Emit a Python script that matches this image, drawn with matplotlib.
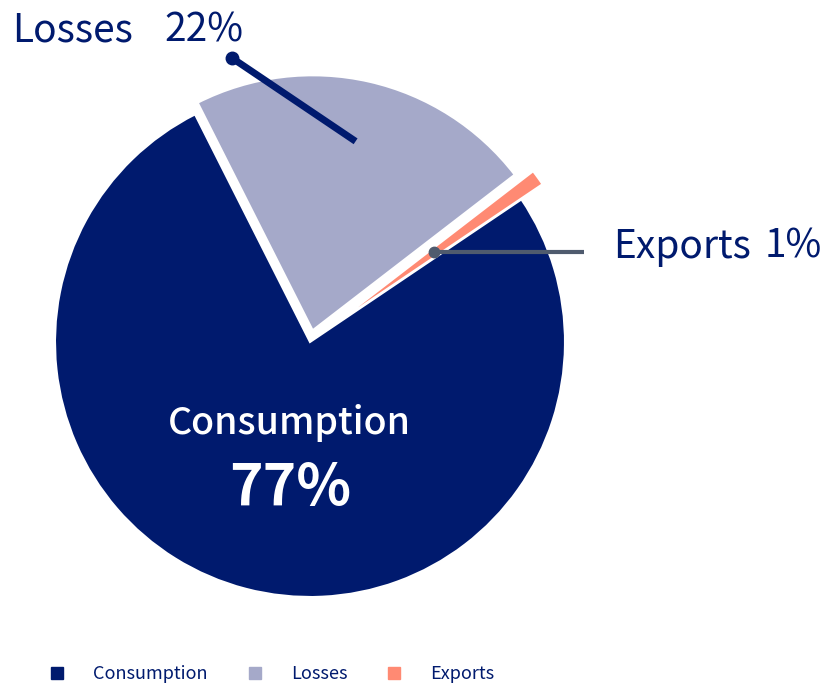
import numpy as np
import matplotlib
matplotlib.use("Agg")
import matplotlib.pyplot as plt
from matplotlib.lines import Line2D

plt.rcParams['font.family'] = ['Noto Sans CJK JP', 'DejaVu Sans']

labels = ['Consumption', 'Losses', 'Exports']
shares = [77, 22, 1]
colors = ['#001a6e', '#a5a9c9', '#ff8a73']

navy = '#001a6e'
W, H = 826, 689

fig = plt.figure(figsize=(W / 100, H / 100), dpi=100)
ax = fig.add_axes([0, 0, 1, 1])

# explode offsets are in data units (pixels here)
cx, cy, r = 310, H - 342, 255
wedges, _ = ax.pie(shares, colors=colors, explode=[0, 12, 26], startangle=34,
                   counterclock=False, center=(cx, cy), radius=r,
                   wedgeprops=dict(edgecolor='white', linewidth=1.5))
ax.set_xlim(0, W)
ax.set_ylim(0, H)
ax.set_aspect('equal')
ax.axis('off')


def wedge_point(w, frac):
    # point along the wedge's middle direction, frac of radius from its apex
    a = np.deg2rad((w.theta1 + w.theta2) / 2)
    x0, y0 = w.center
    return x0 + frac * w.r * np.cos(a), y0 + frac * w.r * np.sin(a)


# Consumption label inside the big wedge
ax.text(289, H - 423, labels[0], color='white', fontsize=27,
        fontweight='medium', ha='center', va='center')
ax.text(290, H - 489, f'{shares[0]}%', color='white', fontsize=41,
        fontweight='bold', ha='center', va='center')

# Losses callout
lx, ly = wedge_point(wedges[1], 0.76)
ax.plot([232, lx], [H - 58, ly], color=navy, lw=5, solid_capstyle='butt')
ax.plot([232], [H - 58], 'o', color=navy, ms=9)
ax.text(12, H - 30, labels[1], color=navy, fontsize=28, ha='left', va='center')
ax.text(243, H - 30, f'{shares[1]}%', color=navy, fontsize=28,
        ha='right', va='center')

# Exports callout
ex, ey = wedge_point(wedges[2], 0.5)
ax.plot([ex, 584], [ey, ey], color='#4f5b6e', lw=3, solid_capstyle='butt')
ax.plot([ex], [ey], 'o', color='#4f5b6e', ms=7.5)
ax.text(613, H - 247, labels[2], color=navy, fontsize=28, ha='left', va='center')
ax.text(822, H - 247, f'{shares[2]}%', color=navy, fontsize=28,
        ha='right', va='center')

handles = [Line2D([], [], ls='none', marker='s', ms=9, color=c) for c in colors]
ax.legend(handles, labels, ncol=3, frameon=False, loc='center left',
          bbox_to_anchor=(50 / W, 15 / H), borderaxespad=0, borderpad=0,
          handlelength=0.8, handletextpad=1.6, columnspacing=2.2,
          prop={'size': 13}, labelcolor=navy)

fig.savefig('out.png', dpi=100)
